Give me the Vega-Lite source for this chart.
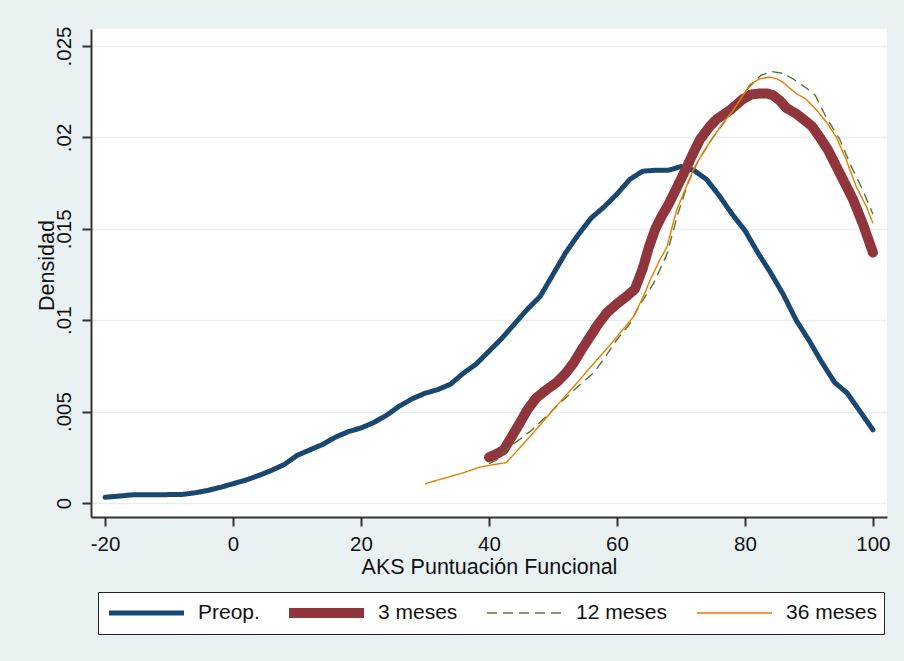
{
  "$schema": "https://vega.github.io/schema/vega-lite/v6.json",
  "width": 796,
  "height": 488,
  "autosize": {"type": "none"},
  "padding": {"left": 91, "top": 29, "right": 17, "bottom": 144},
  "background": "#e9f1f3",
  "config": {
    "font": "Liberation Sans",
    "view": {"fill": "white", "stroke": null},
    "axis": {
      "domainColor": "#333333",
      "domainWidth": 2,
      "tickColor": "#333333",
      "tickWidth": 2,
      "tickSize": 9,
      "labelFont": "Liberation Sans",
      "labelFontSize": 20.5,
      "labelColor": "#111111",
      "titleFont": "Liberation Sans",
      "titleFontSize": 21.5,
      "titleFontWeight": "normal",
      "titleColor": "#111111"
    },
    "legend": {
      "labelFont": "Liberation Sans",
      "labelFontSize": 21,
      "labelColor": "#111111",
      "orient": "none",
      "legendX": 7,
      "legendY": 563,
      "direction": "horizontal",
      "columns": 4,
      "symbolType": "stroke",
      "symbolSize": 5625,
      "labelOffset": 9,
      "columnPadding": 24,
      "padding": 6,
      "clipHeight": 30,
      "strokeColor": "#222222",
      "fillColor": "white",
      "labelLimit": 200,
      "title": null
    }
  },
  "data": {
    "values": [
      {"s": "Preop.", "x": -20, "y": 0.00031},
      {"s": "Preop.", "x": -17, "y": 0.0004},
      {"s": "Preop.", "x": -16, "y": 0.00044},
      {"s": "Preop.", "x": -12, "y": 0.00045},
      {"s": "Preop.", "x": -8, "y": 0.00046},
      {"s": "Preop.", "x": -6, "y": 0.00055},
      {"s": "Preop.", "x": -4, "y": 0.00068},
      {"s": "Preop.", "x": -2, "y": 0.00085},
      {"s": "Preop.", "x": 0, "y": 0.00105},
      {"s": "Preop.", "x": 2, "y": 0.00125},
      {"s": "Preop.", "x": 4, "y": 0.0015},
      {"s": "Preop.", "x": 6, "y": 0.00178},
      {"s": "Preop.", "x": 8, "y": 0.0021},
      {"s": "Preop.", "x": 10, "y": 0.0026},
      {"s": "Preop.", "x": 12, "y": 0.0029},
      {"s": "Preop.", "x": 14, "y": 0.0032},
      {"s": "Preop.", "x": 16, "y": 0.0036},
      {"s": "Preop.", "x": 18, "y": 0.0039},
      {"s": "Preop.", "x": 20, "y": 0.0041},
      {"s": "Preop.", "x": 22, "y": 0.0044},
      {"s": "Preop.", "x": 24, "y": 0.0048},
      {"s": "Preop.", "x": 26, "y": 0.0053},
      {"s": "Preop.", "x": 28, "y": 0.0057},
      {"s": "Preop.", "x": 30, "y": 0.006},
      {"s": "Preop.", "x": 32, "y": 0.0062},
      {"s": "Preop.", "x": 34, "y": 0.0065},
      {"s": "Preop.", "x": 36, "y": 0.0071},
      {"s": "Preop.", "x": 38, "y": 0.0076},
      {"s": "Preop.", "x": 40, "y": 0.0083},
      {"s": "Preop.", "x": 42, "y": 0.009},
      {"s": "Preop.", "x": 44, "y": 0.0098},
      {"s": "Preop.", "x": 46, "y": 0.0106},
      {"s": "Preop.", "x": 48, "y": 0.0113},
      {"s": "Preop.", "x": 50, "y": 0.0125},
      {"s": "Preop.", "x": 52, "y": 0.0137},
      {"s": "Preop.", "x": 54, "y": 0.0147},
      {"s": "Preop.", "x": 56, "y": 0.0156},
      {"s": "Preop.", "x": 58, "y": 0.0162},
      {"s": "Preop.", "x": 60, "y": 0.0169},
      {"s": "Preop.", "x": 62, "y": 0.0177},
      {"s": "Preop.", "x": 64, "y": 0.01815},
      {"s": "Preop.", "x": 66, "y": 0.0182},
      {"s": "Preop.", "x": 68, "y": 0.0182},
      {"s": "Preop.", "x": 70, "y": 0.0184},
      {"s": "Preop.", "x": 72, "y": 0.0182},
      {"s": "Preop.", "x": 74, "y": 0.0177},
      {"s": "Preop.", "x": 76, "y": 0.0168},
      {"s": "Preop.", "x": 78, "y": 0.0158},
      {"s": "Preop.", "x": 80, "y": 0.0149},
      {"s": "Preop.", "x": 82, "y": 0.0137},
      {"s": "Preop.", "x": 84, "y": 0.0126},
      {"s": "Preop.", "x": 86, "y": 0.0114},
      {"s": "Preop.", "x": 88, "y": 0.01},
      {"s": "Preop.", "x": 90, "y": 0.0089},
      {"s": "Preop.", "x": 92, "y": 0.0077},
      {"s": "Preop.", "x": 94, "y": 0.0066},
      {"s": "Preop.", "x": 96, "y": 0.006},
      {"s": "Preop.", "x": 98, "y": 0.005},
      {"s": "Preop.", "x": 100, "y": 0.004},

      {"s": "3 meses", "x": 40, "y": 0.0025},
      {"s": "3 meses", "x": 41, "y": 0.00265},
      {"s": "3 meses", "x": 42.3, "y": 0.0029},
      {"s": "3 meses", "x": 43.5, "y": 0.0036},
      {"s": "3 meses", "x": 44.8, "y": 0.00436},
      {"s": "3 meses", "x": 46, "y": 0.0051},
      {"s": "3 meses", "x": 47.4, "y": 0.00575},
      {"s": "3 meses", "x": 49, "y": 0.0062},
      {"s": "3 meses", "x": 50.6, "y": 0.0066},
      {"s": "3 meses", "x": 52, "y": 0.0071},
      {"s": "3 meses", "x": 53.2, "y": 0.00765},
      {"s": "3 meses", "x": 54.5, "y": 0.0084},
      {"s": "3 meses", "x": 55.8, "y": 0.0091},
      {"s": "3 meses", "x": 57, "y": 0.00975},
      {"s": "3 meses", "x": 58.4, "y": 0.0104},
      {"s": "3 meses", "x": 60, "y": 0.0109},
      {"s": "3 meses", "x": 61.5, "y": 0.0113},
      {"s": "3 meses", "x": 62.8, "y": 0.0117},
      {"s": "3 meses", "x": 64, "y": 0.0128},
      {"s": "3 meses", "x": 65, "y": 0.014},
      {"s": "3 meses", "x": 66, "y": 0.015},
      {"s": "3 meses", "x": 67, "y": 0.0157},
      {"s": "3 meses", "x": 68, "y": 0.0163},
      {"s": "3 meses", "x": 69, "y": 0.017},
      {"s": "3 meses", "x": 70.4, "y": 0.018},
      {"s": "3 meses", "x": 72, "y": 0.0192},
      {"s": "3 meses", "x": 73, "y": 0.0199},
      {"s": "3 meses", "x": 74.5, "y": 0.0206},
      {"s": "3 meses", "x": 75.6, "y": 0.021},
      {"s": "3 meses", "x": 77.7, "y": 0.0215},
      {"s": "3 meses", "x": 79.7, "y": 0.0221},
      {"s": "3 meses", "x": 81, "y": 0.02235},
      {"s": "3 meses", "x": 82.3, "y": 0.0224},
      {"s": "3 meses", "x": 83.5, "y": 0.0224},
      {"s": "3 meses", "x": 84.4, "y": 0.0223},
      {"s": "3 meses", "x": 85.5, "y": 0.022},
      {"s": "3 meses", "x": 86.5, "y": 0.0216},
      {"s": "3 meses", "x": 88, "y": 0.0213},
      {"s": "3 meses", "x": 89.1, "y": 0.021},
      {"s": "3 meses", "x": 90.5, "y": 0.0206},
      {"s": "3 meses", "x": 91.7, "y": 0.02},
      {"s": "3 meses", "x": 93, "y": 0.0193},
      {"s": "3 meses", "x": 94.3, "y": 0.0184},
      {"s": "3 meses", "x": 95.6, "y": 0.0175},
      {"s": "3 meses", "x": 96.9, "y": 0.0166},
      {"s": "3 meses", "x": 98.5, "y": 0.0152},
      {"s": "3 meses", "x": 100, "y": 0.0137},

      {"s": "12 meses", "x": 40, "y": 0.00215},
      {"s": "12 meses", "x": 41.2, "y": 0.00235},
      {"s": "12 meses", "x": 43, "y": 0.003},
      {"s": "12 meses", "x": 44.5, "y": 0.0034},
      {"s": "12 meses", "x": 46.4, "y": 0.0039},
      {"s": "12 meses", "x": 49, "y": 0.00475},
      {"s": "12 meses", "x": 51.6, "y": 0.00563},
      {"s": "12 meses", "x": 54, "y": 0.0064},
      {"s": "12 meses", "x": 56.3, "y": 0.0071},
      {"s": "12 meses", "x": 58, "y": 0.0079},
      {"s": "12 meses", "x": 59.9, "y": 0.0089},
      {"s": "12 meses", "x": 62, "y": 0.0098},
      {"s": "12 meses", "x": 63.5, "y": 0.0108},
      {"s": "12 meses", "x": 65.7, "y": 0.012},
      {"s": "12 meses", "x": 67.8, "y": 0.0136},
      {"s": "12 meses", "x": 69.5, "y": 0.0158},
      {"s": "12 meses", "x": 71, "y": 0.0174},
      {"s": "12 meses", "x": 72.5, "y": 0.0186},
      {"s": "12 meses", "x": 75, "y": 0.02},
      {"s": "12 meses", "x": 78, "y": 0.0214},
      {"s": "12 meses", "x": 80.5, "y": 0.0227},
      {"s": "12 meses", "x": 82.5, "y": 0.0234},
      {"s": "12 meses", "x": 84.2, "y": 0.0236},
      {"s": "12 meses", "x": 86, "y": 0.0235},
      {"s": "12 meses", "x": 87.5, "y": 0.0232},
      {"s": "12 meses", "x": 89.6, "y": 0.0227},
      {"s": "12 meses", "x": 91, "y": 0.0223},
      {"s": "12 meses", "x": 92.7, "y": 0.0211},
      {"s": "12 meses", "x": 94.8, "y": 0.0199},
      {"s": "12 meses", "x": 96.5, "y": 0.0185},
      {"s": "12 meses", "x": 98.3, "y": 0.0172},
      {"s": "12 meses", "x": 100, "y": 0.0158},

      {"s": "36 meses", "x": 30, "y": 0.00105},
      {"s": "36 meses", "x": 33, "y": 0.00135},
      {"s": "36 meses", "x": 36, "y": 0.00165},
      {"s": "36 meses", "x": 38.5, "y": 0.00195},
      {"s": "36 meses", "x": 40.4, "y": 0.00208},
      {"s": "36 meses", "x": 42.7, "y": 0.0022},
      {"s": "36 meses", "x": 44.5, "y": 0.0029},
      {"s": "36 meses", "x": 46.4, "y": 0.00363},
      {"s": "36 meses", "x": 48.2, "y": 0.00435},
      {"s": "36 meses", "x": 50, "y": 0.00509},
      {"s": "36 meses", "x": 51.8, "y": 0.0058},
      {"s": "36 meses", "x": 53.7, "y": 0.00655},
      {"s": "36 meses", "x": 55.3, "y": 0.0072},
      {"s": "36 meses", "x": 56.8, "y": 0.0078},
      {"s": "36 meses", "x": 58.7, "y": 0.00855},
      {"s": "36 meses", "x": 60.5, "y": 0.0093},
      {"s": "36 meses", "x": 62.6, "y": 0.0102},
      {"s": "36 meses", "x": 64, "y": 0.0112},
      {"s": "36 meses", "x": 65.2, "y": 0.0122},
      {"s": "36 meses", "x": 66.7, "y": 0.0133},
      {"s": "36 meses", "x": 67.8, "y": 0.014},
      {"s": "36 meses", "x": 69.3, "y": 0.016},
      {"s": "36 meses", "x": 71.9, "y": 0.0182},
      {"s": "36 meses", "x": 73.5, "y": 0.0192},
      {"s": "36 meses", "x": 75, "y": 0.02},
      {"s": "36 meses", "x": 76.6, "y": 0.0208},
      {"s": "36 meses", "x": 78.2, "y": 0.0215},
      {"s": "36 meses", "x": 80.8, "y": 0.0229},
      {"s": "36 meses", "x": 82.3, "y": 0.0232},
      {"s": "36 meses", "x": 83.9, "y": 0.0233},
      {"s": "36 meses", "x": 85, "y": 0.0232},
      {"s": "36 meses", "x": 86, "y": 0.023},
      {"s": "36 meses", "x": 88, "y": 0.0224},
      {"s": "36 meses", "x": 89.5, "y": 0.0221},
      {"s": "36 meses", "x": 91.2, "y": 0.0215},
      {"s": "36 meses", "x": 92.8, "y": 0.0208},
      {"s": "36 meses", "x": 94.3, "y": 0.02},
      {"s": "36 meses", "x": 95.8, "y": 0.0188},
      {"s": "36 meses", "x": 97.4, "y": 0.0173},
      {"s": "36 meses", "x": 99, "y": 0.0162},
      {"s": "36 meses", "x": 100, "y": 0.0153}
    ]
  },
  "encoding": {
    "x": {
      "field": "x",
      "type": "quantitative",
      "scale": {"domain": [-22.2, 102.2], "nice": false, "zero": false},
      "axis": {
        "title": "AKS Puntuación Funcional",
        "values": [-20, 0, 20, 40, 60, 80, 100],
        "labelExpr": "'' + datum.value",
        "grid": false,
        "labelPadding": 8,
        "titleBaseline": "alphabetic",
        "titleY": 56
      }
    },
    "y": {
      "field": "y",
      "type": "quantitative",
      "scale": {"domain": [-0.00077, 0.02593], "nice": false, "zero": false},
      "axis": {
        "title": "Densidad",
        "values": [0, 0.005, 0.01, 0.015, 0.02, 0.025],
        "labelExpr": "datum.value == 0 ? '0' : slice(format(datum.value, '.3~f'), 1)",
        "labelAngle": 270,
        "labelAlign": "center",
        "labelBaseline": "alphabetic",
        "labelPadding": 12,
        "grid": true,
        "gridColor": "#e6eef1",
        "gridWidth": 1.5,
        "titleAngle": 270,
        "titleAlign": "center",
        "titleBaseline": "alphabetic",
        "titleX": -38,
        "titleY": 236
      }
    },
    "color": {
      "field": "s",
      "type": "nominal",
      "scale": {
        "domain": ["Preop.", "3 meses", "12 meses", "36 meses"],
        "range": ["#1a476f", "#90353b", "#55752f", "#e37e00"]
      },
      "legend": {"title": null}
    },
    "strokeDash": {
      "field": "s",
      "type": "nominal",
      "scale": {
        "type": "ordinal",
        "domain": ["Preop.", "3 meses", "12 meses", "36 meses"],
        "range": [[1, 0], [1, 0], [10, 6], [1, 0]]
      },
      "legend": {"title": null}
    },
    "strokeWidth": {
      "field": "s",
      "type": "nominal",
      "scale": {
        "type": "ordinal",
        "domain": ["Preop.", "3 meses", "12 meses", "36 meses"],
        "range": [5, 10, 1.4, 1.4]
      },
      "legend": {"title": null}
    }
  },
  "layer": [
    {
      "transform": [{"filter": "datum.s == 'Preop.'"}],
      "mark": {"type": "line", "strokeCap": "round", "strokeJoin": "round"}
    },
    {
      "transform": [{"filter": "datum.s == '3 meses'"}],
      "mark": {"type": "line", "strokeCap": "round", "strokeJoin": "round"}
    },
    {
      "transform": [{"filter": "datum.s == '12 meses'"}],
      "mark": {"type": "line", "strokeJoin": "round"}
    },
    {
      "transform": [{"filter": "datum.s == '36 meses'"}],
      "mark": {"type": "line", "strokeJoin": "round"}
    }
  ]
}
